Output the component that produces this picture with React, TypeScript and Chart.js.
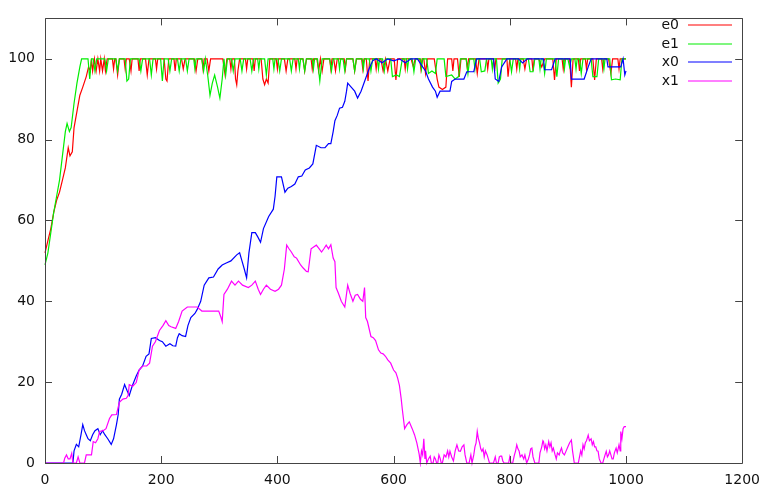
import React, { useEffect, useRef } from "react";
import { Chart, registerables } from "chart.js";

Chart.register(...registerables);

const seriesLabels = ["e0", "e1", "x0", "x1"];
const seriesColors = ["#ff0000", "#00ee00", "#0000ff", "#ff00ff"];
const xTickValues = [0, 200, 400, 600, 800, 1000, 1200];
const yTickValues = [0, 20, 40, 60, 80, 100];

const e0Data: [number, number][] = [
  [0, 52], [5, 55], [10, 58], [15, 62], [20, 65], [25, 67], [30, 70], [35, 73], [40, 78], [43, 76],
  [47, 77], [50, 83], [55, 87], [60, 91], [65, 93], [71, 95.6], [75, 98], [78, 97], [80, 100], [82, 97],
  [85, 100], [88, 97], [91, 100], [94, 97], [96, 100], [99, 97], [102, 100], [104, 97], [107, 100], [116, 100],
  [118, 97.5], [120, 100], [122, 100], [125, 96], [128, 100], [136, 100], [138, 97.5], [140, 100], [145, 100], [148, 97],
  [150, 100], [160, 100], [162, 97], [164, 100], [173, 100], [176, 96], [179, 100], [190, 100], [192, 97.5], [194, 100],
  [205, 100], [208, 95], [210, 94.5], [213, 100], [222, 100], [224, 97], [226, 100], [235, 100], [238, 97.5], [241, 100],
  [257, 100], [260, 97], [263, 100], [270, 100], [272, 97.5], [274, 100], [279, 100], [282, 97], [285, 100], [306, 100],
  [310, 96], [313, 100], [318, 100], [320, 97.5], [322, 100], [326, 100], [328, 95], [330, 93.6], [332, 97], [335, 100],
  [345, 100], [347, 97.5], [349, 100], [358, 100], [360, 97], [362, 100], [372, 100], [375, 95], [378, 93.6], [381, 95],
  [384, 94], [387, 100], [398, 100], [400, 97.5], [402, 100], [412, 100], [415, 97], [418, 100], [430, 100], [432, 97.5],
  [434, 100], [444, 100], [447, 97], [450, 100], [458, 100], [460, 97.5], [462, 100], [468, 100], [471, 97], [474, 100],
  [477, 97], [480, 100], [490, 100], [492, 97.5], [494, 100], [497, 100], [500, 97], [503, 100], [515, 100], [517, 97.5],
  [519, 100], [530, 100], [533, 97], [536, 100], [545, 100], [547, 97.5], [549, 100], [553, 100], [556, 94.5], [559, 100],
  [568, 100], [570, 97.5], [572, 100], [578, 100], [582, 97], [586, 100], [590, 97], [594, 100], [601, 100], [604, 94.8],
  [607, 100], [618, 100], [620, 97.5], [622, 100], [630, 100], [634, 98], [637, 100], [645, 100], [647, 97.5], [649, 100],
  [652, 100], [655, 96.4], [658, 100], [670, 100], [675, 95], [678, 93], [684, 92.4], [690, 93], [693, 100], [700, 100],
  [702, 97], [704, 100], [710, 100], [713, 95.5], [716, 100], [725, 100], [727, 97.5], [729, 100], [741, 100], [744, 96.4],
  [747, 100], [760, 100], [762, 97.5], [764, 100], [772, 100], [774, 97], [776, 100], [795, 100], [797, 95.6], [800, 100],
  [810, 100], [812, 97.5], [814, 100], [823, 100], [826, 97.5], [829, 100], [838, 100], [840, 97], [842, 100], [850, 100],
  [855, 98], [860, 100], [874, 100], [877, 94.8], [880, 100], [890, 100], [892, 97.5], [894, 100], [903, 100], [906, 93],
  [909, 100], [918, 100], [920, 97], [922, 100], [930, 100], [932, 97.5], [934, 100], [943, 100], [946, 94.8], [949, 100],
  [958, 100], [960, 97.5], [962, 100], [970, 100], [974, 96.4], [977, 100], [986, 100], [988, 97.5], [990, 100], [1000, 100],
];

const e1Data: [number, number][] = [
  [0, 49], [5, 52], [10, 57], [15, 62], [20, 66], [25, 70], [30, 76], [35, 82], [38, 84], [42, 82],
  [45, 83], [50, 89], [55, 94], [60, 98], [63, 100], [74, 100], [77, 95], [80, 100], [83, 100], [86, 97],
  [89, 100], [103, 100], [106, 97], [109, 100], [122, 100], [125, 97], [128, 100], [138, 100], [141, 94.5], [144, 95],
  [147, 100], [162, 100], [165, 97], [168, 100], [180, 100], [183, 96], [186, 100], [199, 100], [202, 94.5], [205, 100],
  [212, 100], [215, 97], [218, 100], [228, 100], [231, 97], [234, 100], [242, 100], [245, 97], [248, 100], [256, 100],
  [258, 97.5], [260, 100], [270, 100], [273, 97], [276, 100], [280, 96], [284, 91], [288, 94], [292, 96], [297, 93],
  [301, 90.3], [305, 95], [308, 100], [311, 96], [314, 100], [321, 100], [324, 97], [327, 100], [336, 100], [339, 97],
  [342, 100], [353, 100], [356, 97], [359, 100], [366, 100], [368, 97.5], [370, 100], [378, 100], [381, 96], [384, 100],
  [392, 100], [394, 97.5], [396, 100], [401, 100], [404, 97], [407, 100], [421, 100], [424, 97], [427, 100], [436, 100],
  [438, 97.5], [440, 100], [444, 100], [447, 97], [450, 100], [460, 100], [462, 97.5], [464, 100], [469, 100], [473, 94.5],
  [477, 100], [490, 100], [493, 97], [496, 100], [505, 100], [507, 97.5], [509, 100], [513, 100], [516, 97], [519, 100],
  [530, 100], [533, 97], [536, 100], [546, 100], [548, 97.5], [550, 100], [558, 100], [561, 97], [564, 100], [572, 100],
  [574, 97.5], [576, 100], [581, 100], [584, 97], [587, 100], [595, 100], [598, 95.6], [605, 96], [610, 95.6], [615, 100],
  [622, 100], [624, 97.5], [626, 100], [632, 100], [635, 96.8], [638, 100], [646, 100], [648, 97.5], [650, 100], [657, 100],
  [660, 96.4], [666, 97], [672, 96.4], [675, 100], [687, 100], [690, 95.6], [700, 96], [706, 95], [712, 95.6], [715, 100],
  [725, 100], [728, 96.4], [731, 100], [738, 100], [740, 97.5], [742, 100], [748, 100], [751, 96.8], [757, 97], [760, 100],
  [768, 100], [770, 97.5], [772, 100], [777, 100], [780, 94], [784, 95], [787, 100], [800, 100], [803, 96.8], [806, 100],
  [815, 100], [817, 97.5], [819, 100], [832, 100], [835, 96.8], [840, 96.8], [843, 100], [850, 100], [852, 97.5], [854, 100],
  [857, 100], [860, 96.4], [863, 100], [878, 100], [881, 95.6], [884, 100], [892, 100], [894, 97.5], [896, 100], [900, 100],
  [903, 98], [906, 100], [912, 100], [914, 97.5], [916, 100], [920, 100], [923, 96.4], [926, 100], [940, 100], [943, 95.6],
  [950, 95.6], [953, 100], [960, 100], [962, 97.5], [964, 100], [972, 100], [975, 94.8], [982, 95], [990, 94.8], [993, 100],
  [1000, 100],
];

const x0Data: [number, number][] = [
  [0, 0], [48, 0], [50, 3], [54, 4.6], [58, 4], [62, 7], [65, 9.5], [68, 8], [71, 7], [74, 6],
  [78, 5.5], [82, 7], [86, 8], [91, 8.5], [95, 7], [99, 8], [103, 7], [108, 6], [114, 4.6], [118, 6],
  [123, 9.5], [126, 12], [128, 15.8], [132, 17], [137, 19.4], [141, 18], [145, 16.7], [150, 19], [157, 21.5], [162, 23],
  [168, 24], [174, 26.4], [179, 27], [183, 30.8], [190, 31], [197, 30.3], [202, 30], [208, 28.9], [215, 29.5], [220, 29],
  [225, 28.9], [228, 31], [231, 32], [236, 31.5], [242, 31.3], [246, 34], [251, 36], [258, 37], [262, 38], [268, 40],
  [274, 44], [282, 45.8], [290, 46], [298, 48], [305, 49], [312, 49.5], [320, 50], [330, 51.5], [335, 52], [339, 50],
  [343, 48], [347, 45.8], [351, 52], [356, 57], [362, 57], [366, 56], [371, 54.6], [376, 58], [385, 61], [393, 62.8],
  [396, 66], [399, 70.8], [407, 70.8], [413, 67], [418, 68], [424, 68.4], [430, 69], [436, 70.8], [442, 71], [448, 72.5],
  [455, 73], [461, 74], [467, 78.6], [475, 78], [482, 78], [488, 79], [492, 79], [496, 82], [499, 84.7], [503, 86],
  [507, 87.8], [512, 88], [516, 89.5], [519, 92], [521, 94], [527, 93], [533, 92], [538, 90.3], [544, 92], [550, 94.4],
  [554, 96], [558, 97.6], [564, 99.5], [570, 100], [580, 99], [590, 100], [600, 99.5], [610, 100], [620, 99], [630, 100],
  [641, 100], [650, 98], [655, 97], [660, 95], [667, 93], [672, 92], [675, 90.5], [680, 92], [690, 92], [697, 92],
  [700, 94.4], [706, 95], [721, 95], [726, 96.8], [738, 96.8], [743, 100], [755, 100], [772, 100], [775, 95], [781, 94.4],
  [786, 98], [795, 100], [815, 100], [822, 99], [830, 100], [858, 100], [860, 97.3], [872, 97.3], [878, 100], [904, 100],
  [906, 95], [928, 95], [935, 98], [940, 100], [967, 100], [969, 98], [991, 98], [995, 100], [998, 96], [1000, 97],
];

const x1Data: [number, number][] = [
  [0, 0], [32, 0], [34, 1.2], [37, 2], [40, 1], [43, 1], [46, 2.4], [48, 0], [54, 0], [57, 1.5],
  [60, 0], [68, 0], [71, 2], [80, 2], [83, 5.3], [87, 5], [91, 6], [94, 7.8], [100, 8], [105, 8.5],
  [111, 11], [115, 11.9], [123, 12], [128, 15], [134, 15.8], [140, 16], [143, 16.7], [145, 19.4], [151, 19], [157, 19.9],
  [162, 23], [168, 24], [175, 24], [180, 24.7], [185, 28.9], [190, 30], [197, 32.8], [203, 34], [208, 35.2], [213, 34],
  [217, 33.7], [225, 33.3], [230, 35], [236, 37.6], [245, 38.6], [255, 38.6], [262, 38.6], [270, 37.6], [280, 37.6], [290, 37.6],
  [299, 37.6], [303, 36], [305, 35], [308, 41.7], [314, 43], [321, 45], [327, 44], [333, 45], [340, 44], [350, 43.4],
  [356, 44], [362, 45], [367, 43], [371, 41.7], [376, 43], [381, 44], [388, 43], [396, 42.5], [402, 43], [407, 44],
  [412, 48], [416, 53.9], [420, 53], [424, 52.2], [429, 51], [433, 50.7], [440, 49], [444, 48.3], [450, 47.4], [453, 47.3],
  [458, 53], [463, 53.5], [467, 53.9], [472, 53], [476, 52.2], [480, 53], [484, 53.9], [488, 53], [492, 54], [496, 50.7],
  [499, 49.8], [501, 43.4], [505, 42], [510, 40], [516, 38.6], [521, 44], [525, 42], [530, 40], [534, 41.5], [538, 41.7],
  [543, 40.5], [547, 40], [550, 43.4], [552, 36], [555, 35], [561, 31.3], [565, 31], [569, 30.3], [574, 28], [578, 27.2],
  [582, 27], [586, 26.4], [590, 25.5], [595, 24.7], [600, 23], [604, 22.3], [607, 21], [610, 19.2], [613, 16], [615, 13.3],
  [619, 8.5], [623, 9.5], [627, 10.2], [632, 8.5], [636, 7], [640, 5], [644, 2.2], [646, 0], [648, 3], [650, 2],
  [652, 6], [654, 1], [655, 3], [657, 0], [660, 1], [663, 1.7], [665, 0], [668, 0], [670, 1.5], [672, 1],
  [674, 0], [676, 0], [678, 2], [680, 1.2], [682, 0], [684, 0], [687, 2], [690, 1.5], [693, 3], [695, 1.5],
  [697, 2.9], [700, 1.5], [703, 0.5], [706, 3], [709, 4.5], [712, 3], [715, 2.9], [718, 4], [721, 4.5], [723, 2],
  [726, 0], [730, 0], [733, 2], [735, 0], [738, 2], [740, 4], [742, 5], [744, 7.8], [746, 6], [748, 5],
  [750, 3.5], [752, 2.9], [754, 3.5], [756, 1.5], [758, 3], [761, 2], [763, 1], [765, 0], [772, 0], [775, 1.5],
  [777, 0], [780, 0], [782, 1.5], [784, 1.7], [786, 1.7], [788, 0.5], [790, 0], [798, 0], [800, 1.5], [802, 0],
  [805, 0], [808, 2], [810, 3], [812, 4.5], [814, 3.5], [816, 3], [818, 1.5], [821, 2], [824, 1], [826, 2],
  [829, 0], [832, 1], [834, 2], [836, 3.5], [838, 3.7], [840, 1.5], [843, 0], [847, 0], [850, 0], [852, 2.5],
  [855, 4], [857, 5.5], [858, 5.3], [860, 3.5], [862, 4.5], [864, 3], [867, 5.3], [869, 4], [871, 5], [873, 3],
  [875, 3.7], [878, 2], [880, 1], [882, 2.5], [885, 2], [887, 3], [889, 3.7], [891, 2.5], [894, 2], [897, 3],
  [900, 4], [903, 5], [906, 5.7], [908, 3], [911, 0], [915, 0], [918, 0], [920, 1.5], [922, 3], [924, 2],
  [926, 4.5], [928, 3.5], [930, 5], [932, 5.5], [935, 6.9], [937, 5.5], [940, 6], [942, 4.5], [944, 5.3], [946, 4],
  [948, 4], [950, 3], [952, 2.9], [954, 1], [957, 0], [960, 0], [962, 1], [964, 2], [966, 2.9], [968, 1.5],
  [970, 2], [972, 3], [974, 2], [976, 1], [978, 1], [980, 2.5], [983, 3.7], [985, 2.5], [988, 4.5], [990, 3],
  [991, 7.8], [993, 6], [995, 8.5], [997, 9], [1000, 9],
];

const allSeries = [e0Data, e1Data, x0Data, x1Data];

const FONT = { family: "'DejaVu Sans', sans-serif", size: 14 };
const TEXT = "#111111";
const FRAME = "#444444";
const TICK_LEN = 7;

const framePlugin = {
  id: "gnuplotFrame",
  afterDatasetsDraw(chart: any) {
    const { ctx, chartArea: a, scales } = chart;
    ctx.save();
    ctx.strokeStyle = FRAME;
    ctx.lineWidth = 1;
    ctx.beginPath();
    ctx.rect(Math.round(a.left) + 0.5, Math.round(a.top) + 0.5, Math.round(a.right - a.left), Math.round(a.bottom - a.top));
    ctx.stroke();
    ctx.beginPath();
    for (const v of yTickValues) {
      const y = Math.round(scales.y.getPixelForValue(v)) + 0.5;
      ctx.moveTo(a.left, y); ctx.lineTo(a.left + TICK_LEN, y);
      ctx.moveTo(a.right, y); ctx.lineTo(a.right - TICK_LEN, y);
    }
    for (const v of xTickValues) {
      const x = Math.round(scales.x.getPixelForValue(v)) + 0.5;
      ctx.moveTo(x, a.bottom); ctx.lineTo(x, a.bottom - TICK_LEN);
      ctx.moveTo(x, a.top); ctx.lineTo(x, a.top + TICK_LEN);
    }
    ctx.stroke();
    ctx.restore();
  },
};

const keyPlugin = {
  id: "gnuplotKey",
  afterDraw(chart: any) {
    const { ctx } = chart;
    const rows = [25, 44, 62, 81];
    ctx.save();
    ctx.font = `${FONT.size}px ${FONT.family}`;
    ctx.textAlign = "right";
    ctx.textBaseline = "middle";
    seriesLabels.forEach((label, i) => {
      const y = rows[i];
      ctx.fillStyle = TEXT;
      ctx.fillText(label, 679, y);
      ctx.strokeStyle = seriesColors[i];
      ctx.lineWidth = 1.2;
      ctx.beginPath();
      ctx.moveTo(688, y);
      ctx.lineTo(732, y);
      ctx.stroke();
    });
    ctx.restore();
  },
};

export default function App() {
  const ref = useRef<HTMLCanvasElement | null>(null);
  useEffect(() => {
    if (!ref.current) return;
    const chart = new Chart(ref.current, {
      type: "line",
      data: {
        datasets: allSeries.map((s, i) => ({
          label: seriesLabels[i],
          data: s.map(([x, y]) => ({ x, y })),
          borderColor: seriesColors[i],
          backgroundColor: seriesColors[i],
          borderWidth: 1.2,
          pointRadius: 0,
          tension: 0,
          fill: false,
          clip: 4,
          order: 3 - i,
        })),
      },
      options: {
        responsive: false,
        animation: false,
        layout: { padding: { top: 9, right: 21, left: 0, bottom: 0 } },
        plugins: { legend: { display: false }, tooltip: { enabled: false } },
        scales: {
          x: {
            type: "linear",
            min: 0,
            max: 1200,
            afterBuildTicks: (s: any) => { s.ticks = xTickValues.map((v) => ({ value: v })); },
            afterFit: (s: any) => { s.height = 28; },
            grid: { display: false, drawTicks: false },
            border: { display: false },
            ticks: { padding: 9, font: FONT, color: TEXT, maxRotation: 0, autoSkip: false, callback: (v: any) => String(v) },
          },
          y: {
            type: "linear",
            min: 0,
            max: 110,
            afterBuildTicks: (s: any) => { s.ticks = yTickValues.map((v) => ({ value: v })); },
            afterFit: (s: any) => { s.width = 45; },
            grid: { display: false, drawTicks: false },
            border: { display: false },
            ticks: { padding: 10, font: FONT, color: TEXT, autoSkip: false, callback: (v: any) => String(v) },
          },
        },
      },
      plugins: [framePlugin, keyPlugin],
    });
    return () => chart.destroy();
  }, []);
  return (
    <div style={{ position: "fixed", left: 0, top: 0, width: 769, height: 491, background: "#fff" }}>
      <canvas ref={ref} width={769} height={491} style={{ width: 769, height: 491, display: "block" }} />
    </div>
  );
}
